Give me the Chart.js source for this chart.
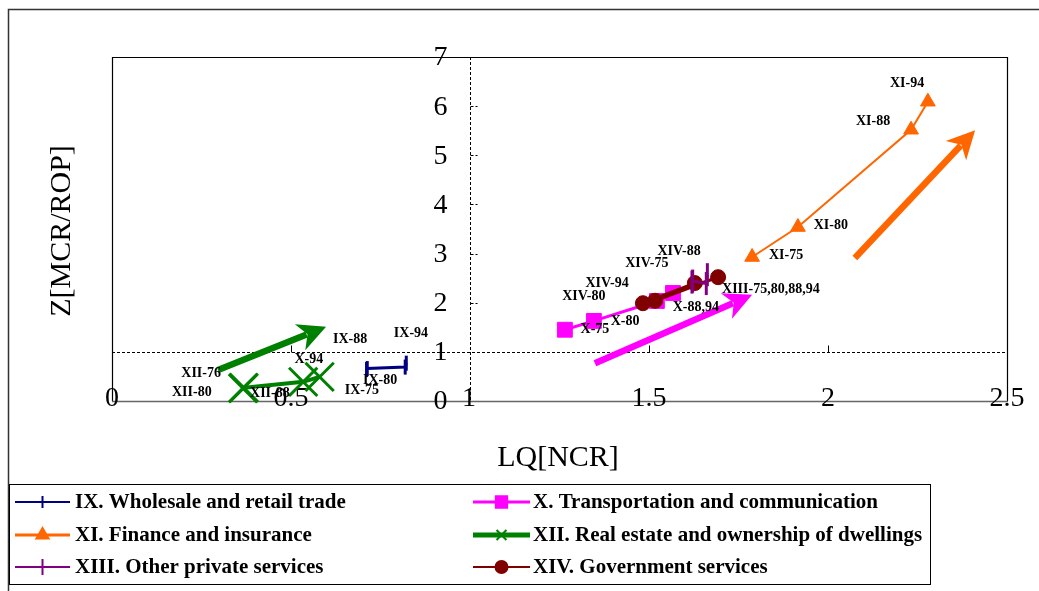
<!DOCTYPE html>
<html><head><meta charset="utf-8">
<script src="https://cdn.jsdelivr.net/npm/chart.js@4"></script>
<style>html,body{margin:0;padding:0;background:#fff;}#wrap{width:1039px;height:591px;position:relative;}</style>
</head><body><div id="wrap"><canvas id="c" width="1039" height="591"></canvas></div>
<script>
// ---------- data ----------
const seriesNames = ['IX. Wholesale and retail trade','X. Transportation and communication','XI. Finance and insurance','XII. Real estate and ownership of dwellings','XIII. Other private services','XIV. Government services'];
const years = ['75','80','88','94'];
const ixLQ   = [0.711,0.713,0.819,0.822]; const ixZ   = [0.64,0.66,0.69,0.77];
const xLQ    = [1.265,1.346,1.522,1.567]; const xZ    = [1.45,1.63,2.035,2.198];
const xiLQ   = [1.788,1.916,2.232,2.279]; const xiZ   = [2.93,3.54,5.52,6.09];
const xiiLQ  = [0.366,0.368,0.534,0.580]; const xiiZ  = [0.26,0.27,0.39,0.49];
const xiiiLQ = [1.620,1.622,1.660,1.663]; const xiiiZ = [2.42,2.44,2.39,2.57];
const xivLQ  = [1.628,1.483,1.693,1.517]; const xivZ  = [2.40,1.99,2.52,2.04];
const xTickValues = [0,0.5,1,1.5,2,2.5]; const xTickLabels = ['0','0.5','1','1.5','2','2.5'];
const yTickValues = [0,1,2,3,4,5,6,7];   const yTickLabels = ['0','1','2','3','4','5','6','7'];
// trend arrows (start/end in data units)
const arrowStartLQ = [0.296,1.349,2.075]; const arrowStartZ = [0.63,0.77,2.91];
const arrowEndLQ   = [0.598,1.788,2.411]; const arrowEndZ   = [1.51,2.16,5.51];
const xTitle = 'LQ[NCR]'; const yTitle = 'Z[MCR/ROP]';

// ---------- styling / annotations ----------
const SERIF = '"Liberation Serif","Times New Roman",serif';
const colors = ['#000080','#FF00FF','#FF6600','#008000','#800080','#800000'];
const arrowColors = ['#008000','#FF00FF','#FF6600'];
const pointAnnotations = [
  ['IX-94',0.835,1.384,'center'],['IX-88',0.665,1.262,'center'],['IX-80',0.749,0.427,'center'],['IX-75',0.698,0.224,'center'],
  ['X-94',0.550,0.855,'center'],['X-75',1.349,1.465,'center'],['X-80',1.433,1.628,'center'],['X-88,94',1.631,1.913,'center'],
  ['XI-94',2.221,6.471,'center'],['XI-88',2.126,5.698,'center'],['XI-80',2.008,3.582,'center'],['XI-75',1.883,2.971,'center'],
  ['XII-76',0.249,0.570,'center'],['XII-80',0.223,0.183,'center'],['XII-88',0.441,0.163,'center'],
  ['XIII-75,80,88,94',1.704,2.279,'left'],
  ['XIV-80',1.318,2.137,'center'],['XIV-94',1.383,2.401,'center'],['XIV-75',1.494,2.808,'center'],['XIV-88',1.584,3.053,'center']
];
function pts(a,b){return a.map((v,i)=>({x:v,y:b[i]}));}
const styleDefs = [
  {pointStyle:'line', radius:7.5, bw:3, lw:3, order:3, rot:90, legend:'cross'},
  {pointStyle:'rect', radius:10.5, bw:1, lw:3, order:6},
  {pointStyle:'triangle', radius:8.5, bw:1, lw:2, order:2},
  {pointStyle:'crossRot', radius:20, bw:3, lw:4, order:1},
  {pointStyle:'line', radius:11.5, bw:3, lw:3, order:4, rot:90, legend:'cross'},
  {pointStyle:'circle', radius:7.5, bw:1, lw:3, order:5}
];
const dataPairs = [[ixLQ,ixZ],[xLQ,xZ],[xiLQ,xiZ],[xiiLQ,xiiZ],[xiiiLQ,xiiiZ],[xivLQ,xivZ]];
const datasets = dataPairs.map((p,i)=>({
  label: seriesNames[i], data: pts(p[0],p[1]), showLine:true,
  borderColor: colors[i], backgroundColor: colors[i], borderWidth: styleDefs[i].lw,
  pointStyle: styleDefs[i].pointStyle, pointRadius: styleDefs[i].radius, pointHoverRadius: styleDefs[i].radius,
  pointBorderWidth: styleDefs[i].bw, pointBorderColor: colors[i], pointBackgroundColor: colors[i],
  pointRotation: styleDefs[i].rot || 0, order: styleDefs[i].order, clip: false, tension: 0
}));

function drawArrow(ctx, x0,y0,x1,y1,color){
  const dx=x1-x0, dy=y1-y0, len=Math.hypot(dx,dy), ux=dx/len, uy=dy/len, px=-uy, py=ux;
  const L=28, W=14, N=20, sw=6.5;
  ctx.save();
  ctx.strokeStyle=color; ctx.fillStyle=color; ctx.lineWidth=sw; ctx.lineCap='butt';
  ctx.beginPath(); ctx.moveTo(x0,y0); ctx.lineTo(x1-ux*(N+1), y1-uy*(N+1)); ctx.stroke();
  ctx.beginPath();
  ctx.moveTo(x1,y1);
  ctx.lineTo(x1-ux*L+px*W, y1-uy*L+py*W);
  ctx.lineTo(x1-ux*N, y1-uy*N);
  ctx.lineTo(x1-ux*L-px*W, y1-uy*L-py*W);
  ctx.closePath(); ctx.fill();
  ctx.restore();
}

const framePlugin = {
  id:'frame',
  beforeDraw(chart){
    const ctx=chart.ctx, xs=chart.scales.x, ys=chart.scales.y, a=chart.chartArea;
    ctx.save();
    ctx.fillStyle='#fff'; ctx.fillRect(0,0,chart.width,chart.height);
    // outer frame
    ctx.strokeStyle='#333'; ctx.lineWidth=1.5;
    ctx.beginPath(); ctx.moveTo(8.5,591); ctx.lineTo(8.5,9.5); ctx.lineTo(1039,9.5); ctx.stroke();
    // plot border
    ctx.strokeStyle='#000'; ctx.lineWidth=1.2;
    ctx.beginPath(); ctx.moveTo(a.left+0.5,a.bottom); ctx.lineTo(a.left+0.5,a.top+0.5); ctx.lineTo(a.right+0.5,a.top+0.5); ctx.lineTo(a.right+0.5,a.bottom); ctx.stroke();
    ctx.strokeStyle='#666'; ctx.lineWidth=1.5;
    ctx.beginPath(); ctx.moveTo(a.left,a.bottom+0.5); ctx.lineTo(a.right+1,a.bottom+0.5); ctx.stroke();
    // dashed axes through (1,1)
    const x1=Math.round(xs.getPixelForValue(1))+0.5, y1=Math.round(ys.getPixelForValue(1))+0.5;
    ctx.strokeStyle='#000'; ctx.lineWidth=1; ctx.setLineDash([3,2]);
    ctx.beginPath(); ctx.moveTo(x1,a.top); ctx.lineTo(x1,a.bottom); ctx.stroke();
    ctx.beginPath(); ctx.moveTo(a.left,y1); ctx.lineTo(a.right,y1); ctx.stroke();
    // tick marks
    yTickValues.forEach(v=>{ if(v===0||v===1||v===7) return; const y=Math.round(ys.getPixelForValue(v))+0.5;
      ctx.beginPath(); ctx.moveTo(x1,y); ctx.lineTo(x1+7,y); ctx.stroke(); });
    ctx.setLineDash([]);
    xTickValues.forEach(v=>{ if(v===0||v===1) return; const x=Math.round(xs.getPixelForValue(v))+0.5;
      ctx.beginPath(); ctx.moveTo(x,y1); ctx.lineTo(x,y1-7); ctx.stroke(); });
    // tick labels
    ctx.fillStyle='#000'; ctx.font='28px '+SERIF; ctx.textBaseline='middle';
    ctx.textAlign='center';
    xTickValues.forEach((v,i)=>{ const x=xs.getPixelForValue(v); ctx.fillText(xTickLabels[i], v===1? x-1 : x, a.bottom-2); });
    yTickValues.forEach((v,i)=>{ const y=ys.getPixelForValue(v); ctx.fillText(yTickLabels[i], x1-30, y+1); });
    // axis titles
    ctx.font='30px '+SERIF;
    ctx.fillText(xTitle, 558, 458);
    ctx.save(); ctx.translate(62,231); ctx.rotate(-Math.PI/2); ctx.fillText(yTitle,0,0); ctx.restore();
    ctx.restore();
  },
  beforeDatasetsDraw(chart){
    const ctx=chart.ctx, xs=chart.scales.x, ys=chart.scales.y;
    arrowStartLQ.forEach((v,i)=>{
      drawArrow(ctx, xs.getPixelForValue(v), ys.getPixelForValue(arrowStartZ[i]), xs.getPixelForValue(arrowEndLQ[i]), ys.getPixelForValue(arrowEndZ[i]), arrowColors[i]);
    });
  },
  afterDatasetsDraw(chart){
    const ctx=chart.ctx, xs=chart.scales.x, ys=chart.scales.y;
    ctx.save();
    ctx.fillStyle='#000'; ctx.font='bold 14px '+SERIF; ctx.textBaseline='middle';
    pointAnnotations.forEach(l=>{ ctx.textAlign=l[3]; ctx.fillText(l[0], xs.getPixelForValue(l[1]), ys.getPixelForValue(l[2])); });
    // legend
    ctx.strokeStyle='#000'; ctx.lineWidth=1;
    ctx.strokeRect(9.5,484.5,921,100);
    const rows=[502,535,567], cols=[[15,70,75],[473,530,533]];
    const legendRadius=[6,8,7,7,8,6];
    const legendLW=[2,3,3,5,2,2];
    seriesNames.forEach((n,i)=>{
      const r=rows[Math.floor(i/2)], c=cols[i%2];
      ctx.strokeStyle=colors[i]; ctx.fillStyle=colors[i]; ctx.lineWidth=legendLW[i];
      ctx.beginPath(); ctx.moveTo(c[0],r); ctx.lineTo(c[1],r); ctx.stroke();
      const ps=styleDefs[i].legend || styleDefs[i].pointStyle;
      ctx.lineWidth=2;
      Chart.helpers.drawPoint(ctx,{pointStyle:ps,radius:legendRadius[i],borderWidth:2,rotation:0},(c[0]+c[1])/2,r);
      ctx.fillStyle='#000'; ctx.font='bold 21px '+SERIF; ctx.textAlign='left';
      ctx.fillText(n,c[2],r+1);
    });
    ctx.restore();
  }
};

new Chart(document.getElementById('c'),{
  type:'scatter',
  data:{datasets},
  options:{
    responsive:false, animation:false, devicePixelRatio:1,
    layout:{padding:{left:112,top:57,right:32,bottom:190}},
    scales:{
      x:{type:'linear',min:0,max:2.5,display:false},
      y:{type:'linear',min:0,max:7,display:false}
    },
    plugins:{legend:{display:false},tooltip:{enabled:false}},
    events:[]
  },
  plugins:[framePlugin]
});
</script></body></html>
